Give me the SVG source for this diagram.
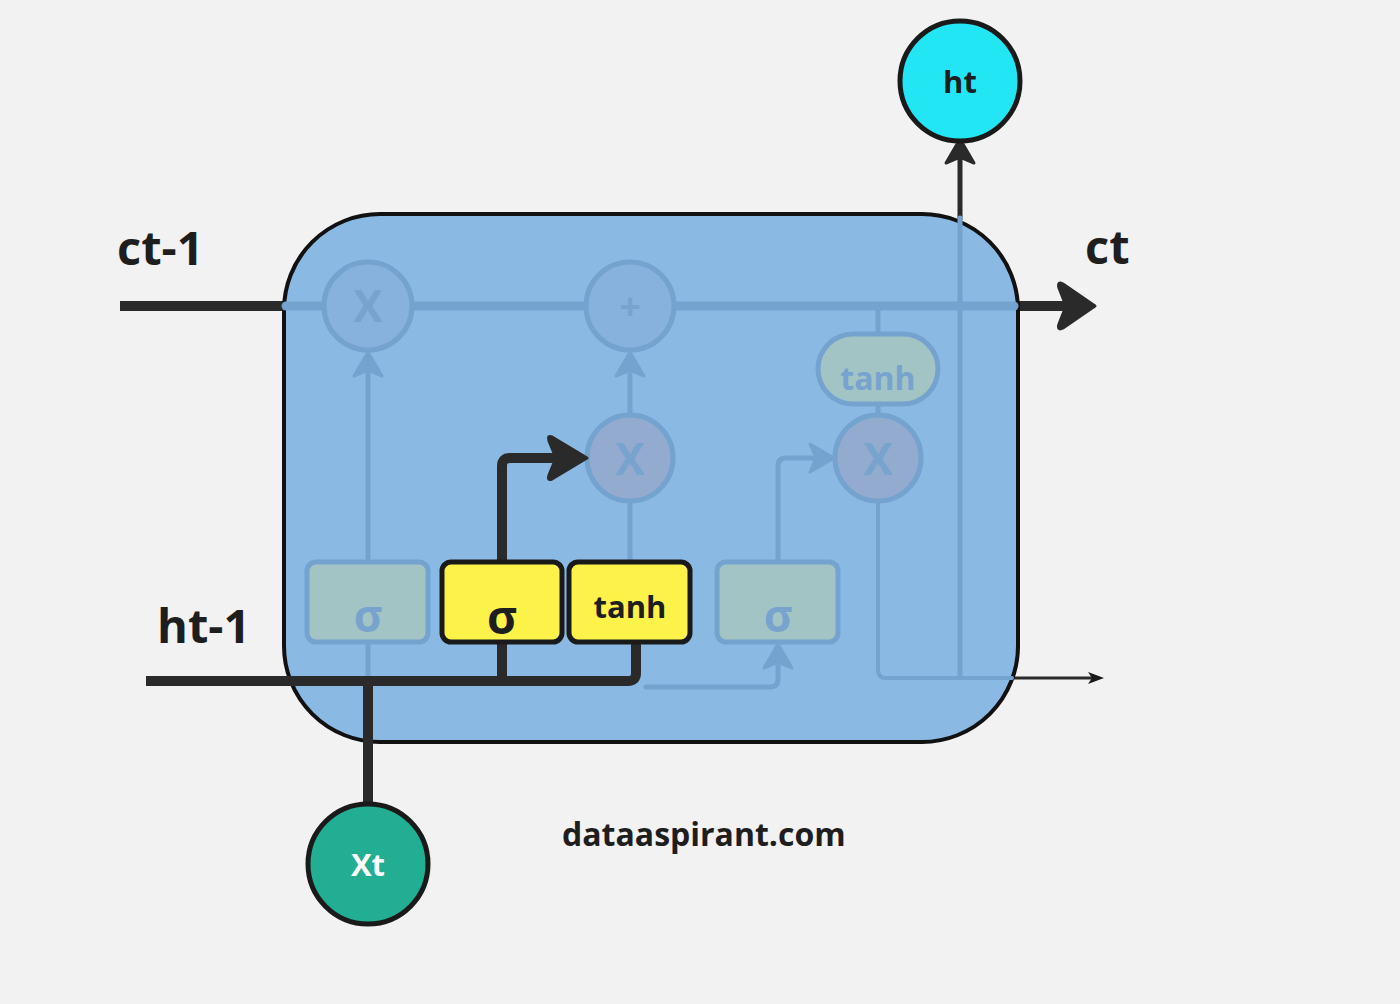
<svg xmlns="http://www.w3.org/2000/svg" width="1400" height="1004" viewBox="0 0 1400 1004">
<style>
.lbl{font-family:"Open Sans","Noto Sans","Liberation Sans",sans-serif;font-weight:700;fill:#1e1e1e}
.mtxt{font-family:"Open Sans","Noto Sans","Liberation Sans",sans-serif;font-weight:700;fill:#78a3cf;text-anchor:middle}
.mline{stroke:#75a3cf;fill:none;stroke-linecap:round;stroke-linejoin:round}
.dline{stroke:#2a2a2a;fill:none;stroke-linejoin:round}
.mcirc{fill:#86b2dd;stroke:#75a3cf;stroke-width:5}
.mbox{fill:#a2c4c4;stroke:#75a3cf;stroke-width:5}
.ybox{fill:#fdf24a;stroke:#1a1a1a;stroke-width:5}
.mhead{fill:#75a3cf;stroke:#75a3cf;stroke-width:3;stroke-linejoin:round}
.dhead{fill:#2a2a2a;stroke:#2a2a2a;stroke-width:3;stroke-linejoin:round}
</style>
<defs>
<path id="upHead" d="M0,0 L14,24 L0,18 L-14,24 Z"/>
</defs>
<rect width="1400" height="1004" fill="#f2f2f2"/>

<g id="labels">
<text class="lbl" x="117" y="265" font-size="47">ct-1</text>
<text class="lbl" x="157" y="643" font-size="47">ht-1</text>
<text class="lbl" x="1085" y="264" font-size="47">ct</text>
<text class="lbl" x="562" y="846" font-size="32">dataaspirant.com</text>
</g>

<g id="connectors-outer">
<line class="dline" x1="120" y1="306" x2="290" y2="306" stroke-width="10"/>
<line class="dline" x1="1012" y1="306" x2="1070" y2="306" stroke-width="10"/>
<path class="dhead" d="M1095,306 L1063,284 Q1057,281 1059,288 L1066,306 L1059,324 Q1057,331 1063,328 Z"/>
<line class="dline" x1="960" y1="220" x2="960" y2="150" stroke-width="5"/>
<use href="#upHead" x="960" y="139" class="dhead"/>
<line class="dline" x1="1010" y1="678" x2="1092" y2="678" stroke-width="3"/>
<path d="M1104,678 L1088,672 L1092,678 L1088,684 Z" fill="#1a1a1a"/>
</g>

<g id="cell">
<rect x="284" y="214" width="734" height="528" rx="96" ry="96" fill="#8ab9e4" stroke="#111" stroke-width="4"/>
</g>

<g id="connectors-inner">
<line class="mline" x1="286" y1="306" x2="1014" y2="306" stroke-width="9" stroke-linecap="butt"/>
<line class="mline" x1="960" y1="218" x2="960" y2="676" stroke-width="5"/>
<path class="mline" d="M878,502 L878,670 Q878,678 886,678 L1012,678" stroke-width="4"/>
<line class="mline" x1="878" y1="310" x2="878" y2="334" stroke-width="5"/>
<line class="mline" x1="878" y1="404" x2="878" y2="414" stroke-width="5"/>
<line class="mline" x1="368" y1="562" x2="368" y2="365" stroke-width="5"/>
<use href="#upHead" x="368" y="352" class="mhead"/>
<line class="mline" x1="368" y1="642" x2="368" y2="681" stroke-width="5"/>
<line class="mline" x1="630" y1="562" x2="630" y2="502" stroke-width="5"/>
<line class="mline" x1="630" y1="414" x2="630" y2="365" stroke-width="5"/>
<use href="#upHead" x="630" y="352" class="mhead"/>
<path class="mline" d="M778,562 L778,466 Q778,458 786,458 L820,458" stroke-width="5"/>
<path class="mhead" d="M834,458 L810,444 L816,458 L810,472 Z"/>
<path class="mline" d="M646,687 L770,687 Q778,687 778,679 L778,656" stroke-width="5"/>
<use href="#upHead" x="778" y="644" class="mhead"/>
</g>

<g id="mul-forget">
<circle class="mcirc" cx="368" cy="306" r="44"/>
<text class="mtxt" x="368" y="322" font-size="44">X</text>
</g>
<g id="add">
<circle class="mcirc" cx="630" cy="306" r="44"/>
<text class="mtxt" x="630" y="320" font-size="38">+</text>
</g>
<g id="mul-input">
<circle cx="630" cy="458" r="43" fill="#93abcf" stroke="#75a3cf" stroke-width="5"/>
<text class="mtxt" x="630" y="475" font-size="44">X</text>
</g>
<g id="mul-output">
<circle cx="878" cy="458" r="43" fill="#93abcf" stroke="#75a3cf" stroke-width="5"/>
<text class="mtxt" x="878" y="475" font-size="44">X</text>
</g>
<g id="tanh-out">
<rect class="mbox" x="818" y="334" width="120" height="70" rx="35" ry="35"/>
<text class="mtxt" x="878" y="390" font-size="32">tanh</text>
</g>
<g id="sigma-forget">
<rect class="mbox" x="307" y="562" width="121" height="80" rx="9"/>
<text class="mtxt" x="368" y="632" font-size="44">σ</text>
</g>
<g id="sigma-output">
<rect class="mbox" x="717" y="562" width="121" height="80" rx="9"/>
<text class="mtxt" x="778" y="632" font-size="44">σ</text>
</g>

<g id="connectors-active">
<path class="dline" d="M146,681 L628,681 Q636,681 636,673 L636,642" stroke-width="10"/>
<line class="dline" x1="502" y1="681" x2="502" y2="640" stroke-width="10"/>
<line class="dline" x1="368" y1="681" x2="368" y2="803" stroke-width="10"/>
<path class="dline" d="M502,562 L502,466 Q502,458 510,458 L560,458" stroke-width="10"/>
<path class="dhead" d="M587,458 L552,437 Q547,435 549,441 L556,458 L549,475 Q547,481 552,479 Z"/>
</g>

<g id="sigma-input">
<rect class="ybox" x="442" y="562" width="120" height="80" rx="9"/>
<text class="lbl" x="502" y="634" font-size="46" text-anchor="middle">σ</text>
</g>
<g id="tanh-input">
<rect class="ybox" x="569" y="562" width="121" height="80" rx="9"/>
<text class="lbl" x="630" y="618" font-size="31" text-anchor="middle">tanh</text>
</g>

<g id="xt">
<circle cx="368" cy="864" r="60" fill="#21ae92" stroke="#1a1a1a" stroke-width="5"/>
<text class="lbl" x="368" y="876" font-size="31" text-anchor="middle" style="fill:#ffffff">Xt</text>
</g>
<g id="ht">
<circle cx="960" cy="81" r="60" fill="#23e6f5" stroke="#1a1a1a" stroke-width="5"/>
<text class="lbl" x="960" y="93" font-size="31" text-anchor="middle">ht</text>
</g>
</svg>
